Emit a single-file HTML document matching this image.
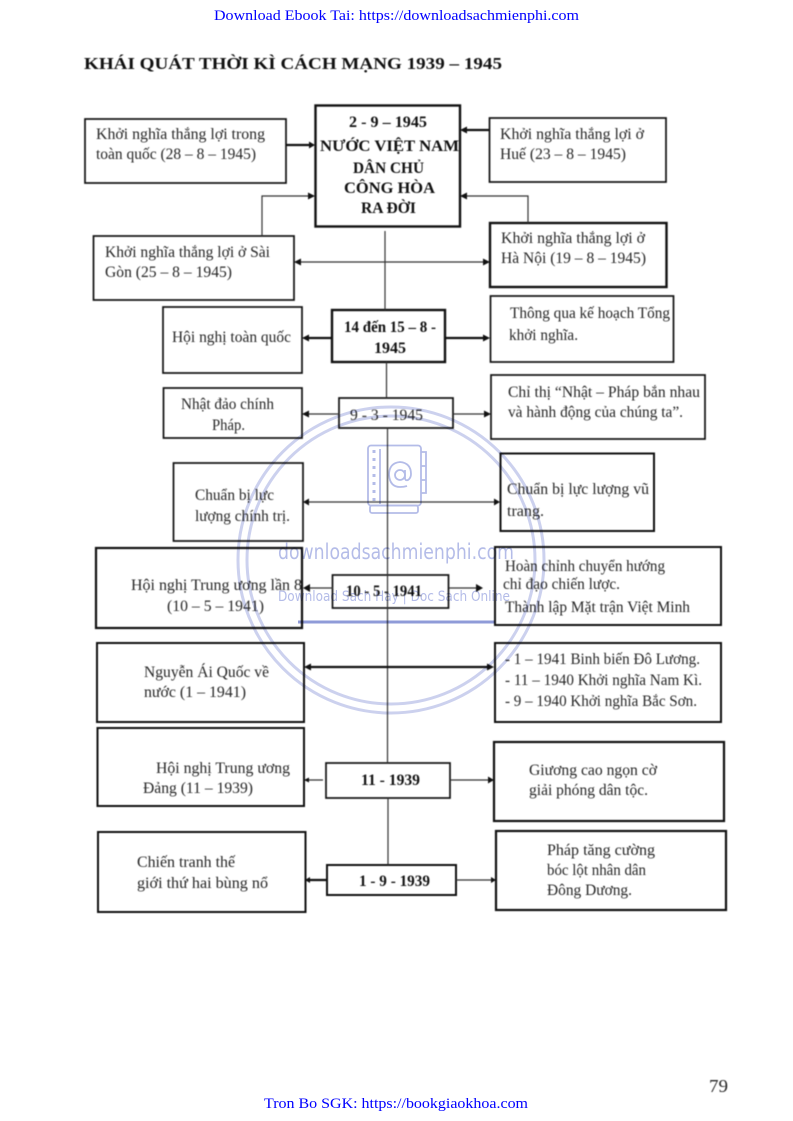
<!DOCTYPE html>
<html><head><meta charset="utf-8"><style>
html,body{margin:0;padding:0;background:#fff;width:793px;height:1121px;overflow:hidden}
svg{display:block}
.t{font-family:"Liberation Serif","DejaVu Serif",serif;font-size:16px;fill:#262626}
.b{font-family:"Liberation Serif","DejaVu Serif",serif;font-size:16px;font-weight:bold;fill:#111}
.w{font-family:"DejaVu Sans","Liberation Sans",sans-serif;fill:#b4bce8}
.u{font-family:"Liberation Serif",serif;font-size:14.5px;fill:#0000ff}
rect{fill:none;stroke:#111;stroke-width:1.7}
.l{stroke:#333;fill:none;stroke-width:1.2}
.h{stroke:#111;fill:none;stroke-width:2.2}
.a{fill:#111;stroke:none}
.scan{filter:blur(0.45px)}
.mark{mix-blend-mode:multiply;filter:blur(0.35px)}
</style></head><body>
<svg width="793" height="1121" viewBox="0 0 793 1121" xmlns="http://www.w3.org/2000/svg">
<text class="u" x="214" y="20" textLength="365" lengthAdjust="spacingAndGlyphs">Download Ebook Tai: https://downloadsachmienphi.com</text>
<text class="u" x="264" y="1108" textLength="264" lengthAdjust="spacingAndGlyphs">Tron Bo SGK: https://bookgiaokhoa.com</text>

<g class="scan">
<text class="t" x="709" y="1092" style="font-size:18px" textLength="19" lengthAdjust="spacingAndGlyphs">79</text>
<text class="b" x="84" y="69" style="font-size:17px" textLength="418" lengthAdjust="spacingAndGlyphs">KHÁI QUÁT THỜI KÌ CÁCH MẠNG 1939 – 1945</text>
<!-- boxes -->
<rect x="315.500" y="105.500" width="144.500" height="121" style="stroke-width:2.4"/>
<rect x="85" y="119" width="201" height="64"/>
<rect x="489.500" y="118" width="176.500" height="64"/>
<rect x="93.500" y="236" width="200.500" height="64"/>
<rect x="490" y="223" width="176.500" height="64" style="stroke-width:2.4"/>
<rect x="332" y="310" width="113" height="52" style="stroke-width:2.4"/>
<rect x="163" y="307" width="139" height="66"/>
<rect x="490.500" y="296" width="183" height="66"/>
<rect x="339" y="398" width="114" height="30"/>
<rect x="163.500" y="388" width="138.500" height="50"/>
<rect x="491" y="375" width="214" height="64"/>
<rect x="173.500" y="463" width="129.500" height="78"/>
<rect x="500.500" y="453.500" width="153.500" height="77.500" style="stroke-width:2"/>
<rect x="332.500" y="575" width="116" height="33"/>
<rect x="96" y="548" width="206" height="80" style="stroke-width:2.2"/>
<rect x="495" y="547" width="226" height="78" style="stroke-width:2"/>
<rect x="97" y="643" width="207" height="79" style="stroke-width:2"/>
<rect x="495" y="643" width="226" height="79" style="stroke-width:2"/>
<rect x="97.500" y="728" width="206.500" height="78" style="stroke-width:2"/>
<rect x="326" y="763" width="124" height="35"/>
<rect x="494" y="742" width="230" height="79" style="stroke-width:2.2"/>
<rect x="98" y="832" width="207.500" height="80" style="stroke-width:2"/>
<rect x="327" y="865" width="129" height="30" style="stroke-width:2"/>
<rect x="496" y="831" width="230" height="79" style="stroke-width:2.2"/>

<!-- central spine -->
<path class="l" d="M385 231V310M386.500 362V398M387.500 428V763M388 798V865"/>

<!-- row connectors -->
<path class="h" d="M286 145H310"/><path class="a" d="M315 145l-6-3.500v7z"/>
<path class="h" d="M489 130H466"/><path class="a" d="M460 130l7-3.500v7z"/>
<path class="l" d="M262 236V196H310"/><path class="a" d="M315 196l-7-3.500v7z"/>
<path class="l" d="M528 223V196H466"/><path class="a" d="M460 196l7-3.500v7z"/>
<path class="l" d="M300 262H484"/><path class="a" d="M294 262l7-3.500v7zM490 262l-7-3.500v7z"/>
<path class="h" d="M307 338H332M445 338H484"/><path class="a" d="M302 338l7-3.500v7zM490 338l-7-3.500v7z"/>
<path class="l" d="M308 414H339M453 414H486"/><path class="a" d="M302 414l7-3.500v7zM491 414l-7-3.500v7z"/>
<path class="l" d="M309 502H495"/><path class="a" d="M303 502l6-3.500v7zM500 502l-6-3.500v7z"/>
<path class="l" d="M308 588H333M449 588H477"/><path class="a" d="M303 588l7-4v8zM483 588l-7-4v8z"/>
<path class="h" d="M310 667H488"/><path class="a" d="M304 667l7-3.500v7zM494 667l-7-3.500v7z"/>
<path class="l" d="M308 780H323M450 780H488"/><path class="a" d="M494 780l-6-3.500v7zM304 780l5-2.500v5z"/>
<path class="h" d="M307 880H327"/><path class="a" d="M305 880l5-3v6z"/>
<path class="l" d="M456 880H491"/><path class="a" d="M496 880l-5-3v6z"/>

<!-- center labels -->
<text class="b" x="349" y="127" textLength="78" lengthAdjust="spacingAndGlyphs">2 - 9 – 1945</text>
<text class="b" x="320" y="151" textLength="139" lengthAdjust="spacingAndGlyphs">NƯỚC VIỆT NAM</text>
<text class="b" x="353" y="173" textLength="71" lengthAdjust="spacingAndGlyphs">DÂN CHỦ</text>
<text class="b" x="344" y="193" textLength="91" lengthAdjust="spacingAndGlyphs">CÔNG HÒA</text>
<text class="b" x="361" y="213" textLength="55" lengthAdjust="spacingAndGlyphs">RA ĐỜI</text>
<text class="b" x="344" y="332" textLength="92" lengthAdjust="spacingAndGlyphs">14 đến 15 – 8 -</text>
<text class="b" x="374" y="353" textLength="32" lengthAdjust="spacingAndGlyphs">1945</text>
<text class="t" x="350" y="420" textLength="73" lengthAdjust="spacingAndGlyphs">9 - 3 - 1945</text>
<text class="b" x="346" y="596" textLength="76" lengthAdjust="spacingAndGlyphs">10 - 5 - 1941</text>
<text class="b" x="361" y="785" textLength="59" lengthAdjust="spacingAndGlyphs">11 - 1939</text>
<text class="b" x="359" y="886" textLength="71" lengthAdjust="spacingAndGlyphs">1 - 9 - 1939</text>

<!-- side labels -->
<text class="t" x="96" y="139" textLength="169" lengthAdjust="spacingAndGlyphs">Khởi nghĩa thắng lợi trong</text>
<text class="t" x="96" y="159" textLength="160" lengthAdjust="spacingAndGlyphs">toàn quốc (28 – 8 – 1945)</text>
<text class="t" x="500" y="139" textLength="144" lengthAdjust="spacingAndGlyphs">Khởi nghĩa thắng lợi ở</text>
<text class="t" x="500" y="159" textLength="126" lengthAdjust="spacingAndGlyphs">Huế (23 – 8 – 1945)</text>
<text class="t" x="105" y="257" textLength="165" lengthAdjust="spacingAndGlyphs">Khởi nghĩa thắng lợi ở Sài</text>
<text class="t" x="105" y="277" textLength="127" lengthAdjust="spacingAndGlyphs">Gòn (25 – 8 – 1945)</text>
<text class="t" x="501" y="243" textLength="144" lengthAdjust="spacingAndGlyphs">Khởi nghĩa thắng lợi ở</text>
<text class="t" x="501" y="263" textLength="145" lengthAdjust="spacingAndGlyphs">Hà Nội (19 – 8 – 1945)</text>
<text class="t" x="172" y="342" textLength="119" lengthAdjust="spacingAndGlyphs">Hội nghị toàn quốc</text>
<text class="t" x="510" y="318" textLength="160" lengthAdjust="spacingAndGlyphs">Thông qua kế hoạch Tổng</text>
<text class="t" x="509" y="340" textLength="69" lengthAdjust="spacingAndGlyphs">khởi nghĩa.</text>
<text class="t" x="181" y="409" textLength="93" lengthAdjust="spacingAndGlyphs">Nhật đảo chính</text>
<text class="t" x="212" y="430" textLength="33" lengthAdjust="spacingAndGlyphs">Pháp.</text>
<text class="t" x="508" y="397" textLength="192" lengthAdjust="spacingAndGlyphs">Chỉ thị “Nhật – Pháp bắn nhau</text>
<text class="t" x="508" y="417" textLength="175" lengthAdjust="spacingAndGlyphs">và hành động của chúng ta”.</text>
<text class="t" x="195" y="500" textLength="79" lengthAdjust="spacingAndGlyphs">Chuẩn bị lực</text>
<text class="t" x="195" y="521" textLength="95" lengthAdjust="spacingAndGlyphs">lượng chính trị.</text>
<text class="t" x="507" y="494" textLength="142" lengthAdjust="spacingAndGlyphs">Chuẩn bị lực lượng vũ</text>
<text class="t" x="507" y="516" textLength="37" lengthAdjust="spacingAndGlyphs">trang.</text>
<text class="t" x="131" y="590" textLength="171" lengthAdjust="spacingAndGlyphs">Hội nghị Trung ương lần 8</text>
<text class="t" x="167" y="611" textLength="97" lengthAdjust="spacingAndGlyphs">(10 – 5 – 1941)</text>
<text class="t" x="505" y="571" textLength="160" lengthAdjust="spacingAndGlyphs">Hoàn chỉnh chuyển hướng</text>
<text class="t" x="503" y="589" textLength="117" lengthAdjust="spacingAndGlyphs">chỉ đạo chiến lược.</text>
<text class="t" x="505" y="612" textLength="185" lengthAdjust="spacingAndGlyphs">Thành lập Mặt trận Việt Minh</text>
<text class="t" x="144" y="677" textLength="125" lengthAdjust="spacingAndGlyphs">Nguyễn Ái Quốc về</text>
<text class="t" x="144" y="697" textLength="102" lengthAdjust="spacingAndGlyphs">nước (1 – 1941)</text>
<text class="t" x="505" y="664" textLength="195" lengthAdjust="spacingAndGlyphs">- 1 – 1941 Binh biến Đô Lương.</text>
<text class="t" x="505" y="685" textLength="197" lengthAdjust="spacingAndGlyphs">- 11 – 1940 Khởi nghĩa Nam Kì.</text>
<text class="t" x="505" y="706" textLength="192" lengthAdjust="spacingAndGlyphs">- 9 – 1940 Khởi nghĩa Bắc Sơn.</text>
<text class="t" x="156" y="773" textLength="134" lengthAdjust="spacingAndGlyphs">Hội nghị Trung ương</text>
<text class="t" x="143" y="793" textLength="110" lengthAdjust="spacingAndGlyphs">Đảng (11 – 1939)</text>
<text class="t" x="529" y="775" textLength="128" lengthAdjust="spacingAndGlyphs">Giương cao ngọn cờ</text>
<text class="t" x="529" y="795" textLength="119" lengthAdjust="spacingAndGlyphs">giải phóng dân tộc.</text>
<text class="t" x="137" y="867" textLength="98" lengthAdjust="spacingAndGlyphs">Chiến tranh thế</text>
<text class="t" x="137" y="888" textLength="131" lengthAdjust="spacingAndGlyphs">giới thứ hai bùng nổ</text>
<text class="t" x="547" y="855" textLength="108" lengthAdjust="spacingAndGlyphs">Pháp tăng cường</text>
<text class="t" x="547" y="875" textLength="99" lengthAdjust="spacingAndGlyphs">bóc lột nhân dân</text>
<text class="t" x="547" y="895" textLength="85" lengthAdjust="spacingAndGlyphs">Đông Dương.</text>
</g>

<!-- watermark -->
<g class="mark">
<g fill="none" stroke="#ccd1ee">
<circle cx="391" cy="560" r="153" stroke-width="3"/>
<circle cx="391" cy="560" r="144" stroke-width="3"/>
<g stroke="#b4bce8" stroke-width="1.800">
<rect x="368" y="445.500" width="53" height="60" rx="3" style="stroke:#b4bce8;stroke-width:1.800"/>
<rect x="370" y="505.500" width="48" height="7.500" rx="2" style="stroke:#b4bce8;stroke-width:1.800"/>
<path d="M421 452h5v14h-5M426 466v14h-5M426 480v13h-5"/>
<path d="M380 449V504"/>
<path d="M374 450V503" stroke-width="3" stroke-dasharray="3 5"/>
<circle cx="400" cy="475" r="5"/>
<path d="M405 470v8q0 3 3 2 3-2 3-6 0-11-11-12-11 1-11 13 1 12 11 12 4 0 7-1"/>
</g>
</g>
<text class="w" x="278" y="559" style="font-size:21px" textLength="236" lengthAdjust="spacingAndGlyphs">downloadsachmienphi.com</text>
<text class="w" x="278" y="601" style="font-size:14px" textLength="232" lengthAdjust="spacingAndGlyphs">Download Sach Hay | Doc Sach Online</text>
<rect x="298" y="620.500" width="197" height="3" style="fill:#8f9bd8;stroke:none"/>
</g>
</svg>
</body></html>
